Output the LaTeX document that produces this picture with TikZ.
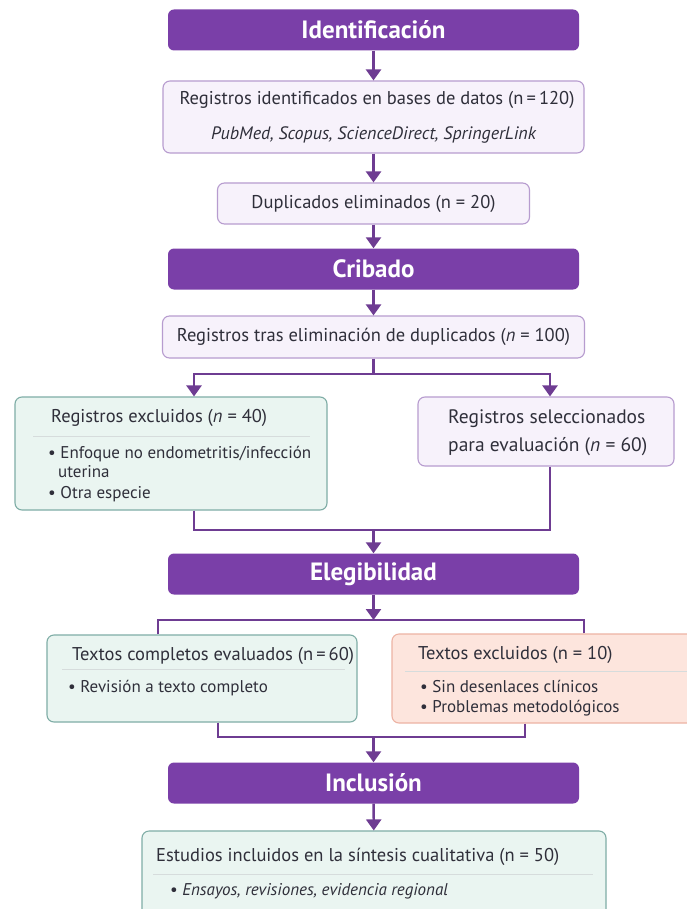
\documentclass[tikz,border=0pt]{standalone}
\usepackage{fontspec}
\setmainfont{PT Sans}
\usetikzlibrary{arrows.meta}

\definecolor{hdrc}{HTML}{7A3FA8}
\definecolor{linec}{HTML}{6E3C92}
\definecolor{lavf}{HTML}{F7F2FB}
\definecolor{lavd}{HTML}{B79CCF}
\definecolor{mintf}{HTML}{EAF5F1}
\definecolor{mintd}{HTML}{7FADA6}
\definecolor{peachf}{HTML}{FDE5DD}
\definecolor{peachd}{HTML}{EDB3A4}
\definecolor{txt}{HTML}{2F2F3A}
\definecolor{sepc}{HTML}{D6DCDC}

\begin{document}
\begin{tikzpicture}[x=1pt,y=-1pt,
    hdr/.style={fill=hdrc, rounded corners=6pt, minimum width=411pt, minimum height=41pt, text=white, font=\fontsize{25}{28}\selectfont\bfseries},
    box/.style={draw=lavd, fill=lavf, rounded corners=7pt, line width=1.1pt, text=txt, font=\fontsize{18.5}{22}\selectfont},
    mint/.style={box, draw=mintd, fill=mintf},
    peach/.style={box, draw=peachd, fill=peachf},
    lbl/.style={text=txt, font=\fontsize{18.5}{22}\selectfont, inner sep=0pt},
    small/.style={text=txt, font=\fontsize{17}{20}\selectfont, inner sep=0pt},
    ln/.style={draw=linec, line width=2.4pt},
    arr/.style={ln, -{Triangle[length=11pt,width=15pt]}},
    sep/.style={draw=sepc, line width=0.8pt}]
            \useasboundingbox (0,0) rectangle (686,909);
            \fill[white] (0,0) rectangle (686,909);

            \node[hdr] (idn) at (373.5,30) {Identificación};
            \node[box, minimum width=421pt, minimum height=72pt] (reg1) at (373.5,117) {};
            \node[lbl, anchor=base] (reg1a) at (377,105) {Registros identificados en bases de datos (n\,=\,120)};
            \node[small, anchor=base, font=\fontsize{18}{22}\selectfont\itshape] (reg1b) at (373.5,140) {PubMed, Scopus, ScienceDirect, SpringerLink};
            \node[box, minimum width=312pt, minimum height=41pt] (dup) at (373.5,203.5) {Duplicados eliminados (n = 20)};

            \node[hdr] (crib) at (373.5,269) {Cribado};
            \node[box, minimum width=422pt, minimum height=42pt] (reg2) at (373.5,337) {Registros tras eliminación de duplicados (\textit{n} = 100)};

            \node[mint, minimum width=312pt, minimum height=113pt] (excl) at (171,453.5) {};
            \node[lbl, anchor=base west] (exclt) at (51,422) {Registros excluidos (\textit{n} = 40)};
            \draw[sep] (33,436) -- (310,436);
            \node[small, anchor=base west] (excl1) at (48,458) {\textbullet\ Enfoque no endometritis/infección};
            \node[small, anchor=base west] (excl2) at (58,477) {uterina};
            \node[small, anchor=base west] (excl3) at (48,498) {\textbullet\ Otra especie};

            \node[box, minimum width=256pt, minimum height=69pt] (sel) at (546,431.5) {};
            \node[lbl, anchor=base west, font=\fontsize{19.5}{22}\selectfont] (sel1) at (448,423) {Registros seleccionados};
            \node[lbl, anchor=base west, font=\fontsize{19.5}{22}\selectfont] (sel2) at (448,451) {para evaluación (\textit{n} = 60)};

            \node[hdr] (eleg) at (373.5,574) {Elegibilidad};

            \node[mint, minimum width=310pt, minimum height=87pt] (full) at (202,678.5) {};
            \node[lbl, anchor=base west] (fullt) at (72,660) {Textos completos evaluados (n\,=\,60)};
            \draw[sep] (62,669) -- (345,669);
            \node[small, anchor=base west] (full1) at (68,692) {\textbullet\ Revisión a texto completo};

            \node[peach, minimum width=310pt, minimum height=89pt] (exft) at (547,678.5) {};
            \node[lbl, anchor=base west] (exftt) at (418,659) {Textos excluidos (n = 10)};
            \draw[sep] (405,671) -- (690,671);
            \node[small, anchor=base west] (exft1) at (420,692) {\textbullet\ Sin desenlaces clínicos};
            \node[small, anchor=base west] (exft2) at (420,712) {\textbullet\ Problemas metodológicos};

            \node[hdr] (incl) at (373.5,783) {Inclusión};

            \node[mint, minimum width=464pt, minimum height=86pt] (stud) at (374,874) {};
            \node[lbl, anchor=base west] (studt) at (156,861) {Estudios incluidos en la síntesis cualitativa (n = 50)};
            \draw[sep] (153,874) -- (593,874);
            \node[small, anchor=base west] (stud1) at (170,895) {\textbullet\ \textit{Ensayos, revisiones, evidencia regional}};

            \coordinate (sp1) at (373.5,374);
            \coordinate (sl) at (194,374);
            \coordinate (sr) at (550,374);
            \coordinate (mg1) at (373.5,530);
            \coordinate (sp2) at (373.5,620);
            \coordinate (el) at (158,620);
            \coordinate (er) at (584,620);
            \coordinate (mg2) at (373.5,737);
            \coordinate (fl) at (218,737);
            \coordinate (fr) at (525,737);

            \draw[arr] (idn) -- (reg1);
            \draw[arr] (reg1) -- (dup);
            \draw[arr] (dup) -- (crib);
            \draw[arr] (crib) -- (reg2);
            \draw[ln] (reg2) -- (sp1);
            \draw[arr] (sp1) -| (excl.north -| sl);
            \draw[arr] (sp1) -| (sel.north -| sr);
            \draw[ln] (excl.south -| sl) |- (mg1);
            \draw[ln] (sel.south -| sr) |- (mg1);
            \draw[arr] (mg1) -- (eleg);
            \draw[arr] (eleg) -- (sp2);
            \draw[ln] (full.north -| el) |- (sp2);
            \draw[ln] (exft.north -| er) |- (sp2);
            \draw[ln] (full.south -| fl) |- (mg2);
            \draw[ln] (exft.south -| fr) |- (mg2);
            \draw[arr] (mg2) -- (incl);
            \draw[arr] (incl) -- (stud);
        \end{tikzpicture}
\end{document}
